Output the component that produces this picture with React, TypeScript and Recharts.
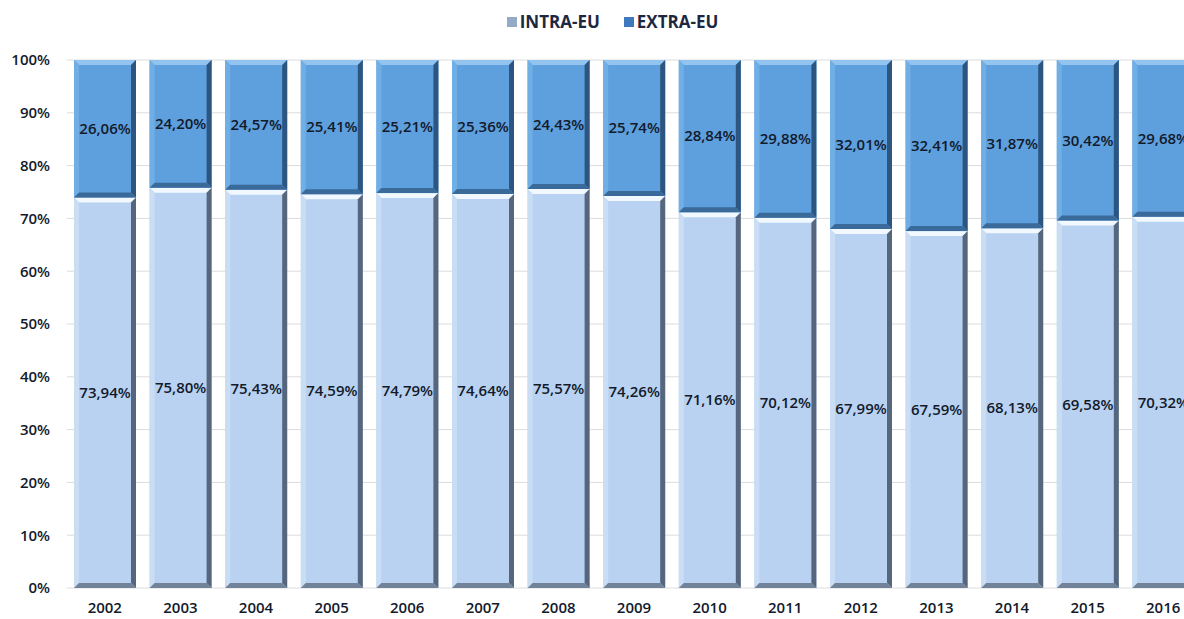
import { BarChart, Bar, XAxis, YAxis, CartesianGrid, Legend, LabelList } from 'recharts'

const years = ['2002', '2003', '2004', '2005', '2006', '2007', '2008', '2009', '2010', '2011', '2012', '2013', '2014', '2015', '2016']
const intraEu = [73.94, 75.8, 75.43, 74.59, 74.79, 74.64, 75.57, 74.26, 71.16, 70.12, 67.99, 67.59, 68.13, 69.58, 70.32]
const extraEu = [26.06, 24.2, 24.57, 25.41, 25.21, 25.36, 24.43, 25.74, 28.84, 29.88, 32.01, 32.41, 31.87, 30.42, 29.68]
const yTicks = [0, 10, 20, 30, 40, 50, 60, 70, 80, 90, 100]

const data = years.map((year, i) => ({ year, intra: intraEu[i], extra: extraEu[i] }))

const FONT = '"Open Sans", sans-serif'
const TEXT = '#121a2c'

type Bevel = { main: string; top: string; left: string; right: string; bottom: string }

const intraBevel: Bevel = { main: '#b9d2f1', top: '#f1f8ff', left: '#c9ddf5', right: '#56667c', bottom: '#728399' }
const extraBevel: Bevel = { main: '#5e9fdd', top: '#93c3ef', left: '#70aee6', right: '#2c5580', bottom: '#3a6a9a' }

// flat bar with a bevelled frame, like the office-style 3d bars
const bevelShape = (c: Bevel) => (props: any) => {
  const { x, y, width: w, height: h } = props
  if (!w || !h) return null
  const b = 5
  return (
    <g>
      <rect x={x} y={y} width={w} height={h} fill={c.main} />
      <polygon points={`${x},${y} ${x + w},${y} ${x + w - b},${y + b} ${x + b},${y + b}`} fill={c.top} />
      <polygon points={`${x},${y} ${x + b},${y + b} ${x + b},${y + h - b} ${x},${y + h}`} fill={c.left} />
      <polygon points={`${x + w},${y} ${x + w},${y + h} ${x + w - b},${y + h - b} ${x + w - b},${y + b}`} fill={c.right} />
      <polygon points={`${x},${y + h} ${x + w},${y + h} ${x + w - b},${y + h - b} ${x + b},${y + h - b}`} fill={c.bottom} />
    </g>
  )
}

const fmt = (v: any) => `${Number(v).toFixed(2).replace('.', ',')}%`

const renderLegend = () => (
  <div
    style={{
      display: 'flex',
      justifyContent: 'center',
      gap: 24,
      height: 20,
      lineHeight: '20px',
      paddingLeft: 24,
      fontFamily: FONT,
      fontWeight: 700,
      fontSize: 17,
      color: '#1d2840',
    }}
  >
    {[
      { name: 'INTRA-EU', color: '#93a9c6' },
      { name: 'EXTRA-EU', color: '#3f78bd' },
    ].map((item) => (
      <span key={item.name} style={{ display: 'flex', alignItems: 'center' }}>
        <span style={{ width: 10, height: 10, background: item.color, marginRight: 3 }} />
        {item.name}
      </span>
    ))}
  </div>
)

export default function App() {
  return (
    <div style={{ position: 'fixed', left: 0, top: 0, width: 1184, height: 619, overflow: 'hidden', background: '#fff' }}>
      <BarChart width={1205} height={619} data={data} barSize={62} margin={{ top: 40, right: 4, bottom: 0, left: 0 }}>
        <CartesianGrid vertical={false} stroke="#dcdcdc" />
        <Legend verticalAlign="top" content={renderLegend} wrapperStyle={{ top: 12 }} />
        <XAxis
          dataKey="year"
          height={31}
          axisLine={false}
          tickLine={false}
          tickSize={0}
          tickMargin={14}
          tick={{ fontSize: 15, fontFamily: FONT, fontWeight: 600, fill: TEXT }}
        />
        <YAxis
          width={67}
          domain={[0, 100]}
          ticks={yTicks}
          interval={0}
          axisLine={false}
          tickLine={false}
          tickSize={0}
          tickMargin={17}
          tickFormatter={(v) => `${v}%`}
          tick={{ fontSize: 15, fontFamily: FONT, fontWeight: 600, fill: TEXT }}
        />
        <Bar dataKey="intra" name="INTRA-EU" stackId="a" shape={bevelShape(intraBevel)} isAnimationActive={false}>
          <LabelList dataKey="intra" position="center" formatter={fmt} style={{ fontSize: 15, fontFamily: FONT, fontWeight: 600, fill: TEXT }} />
        </Bar>
        <Bar dataKey="extra" name="EXTRA-EU" stackId="a" shape={bevelShape(extraBevel)} isAnimationActive={false}>
          <LabelList dataKey="extra" position="center" formatter={fmt} style={{ fontSize: 15, fontFamily: FONT, fontWeight: 600, fill: TEXT }} />
        </Bar>
      </BarChart>
    </div>
  )
}
